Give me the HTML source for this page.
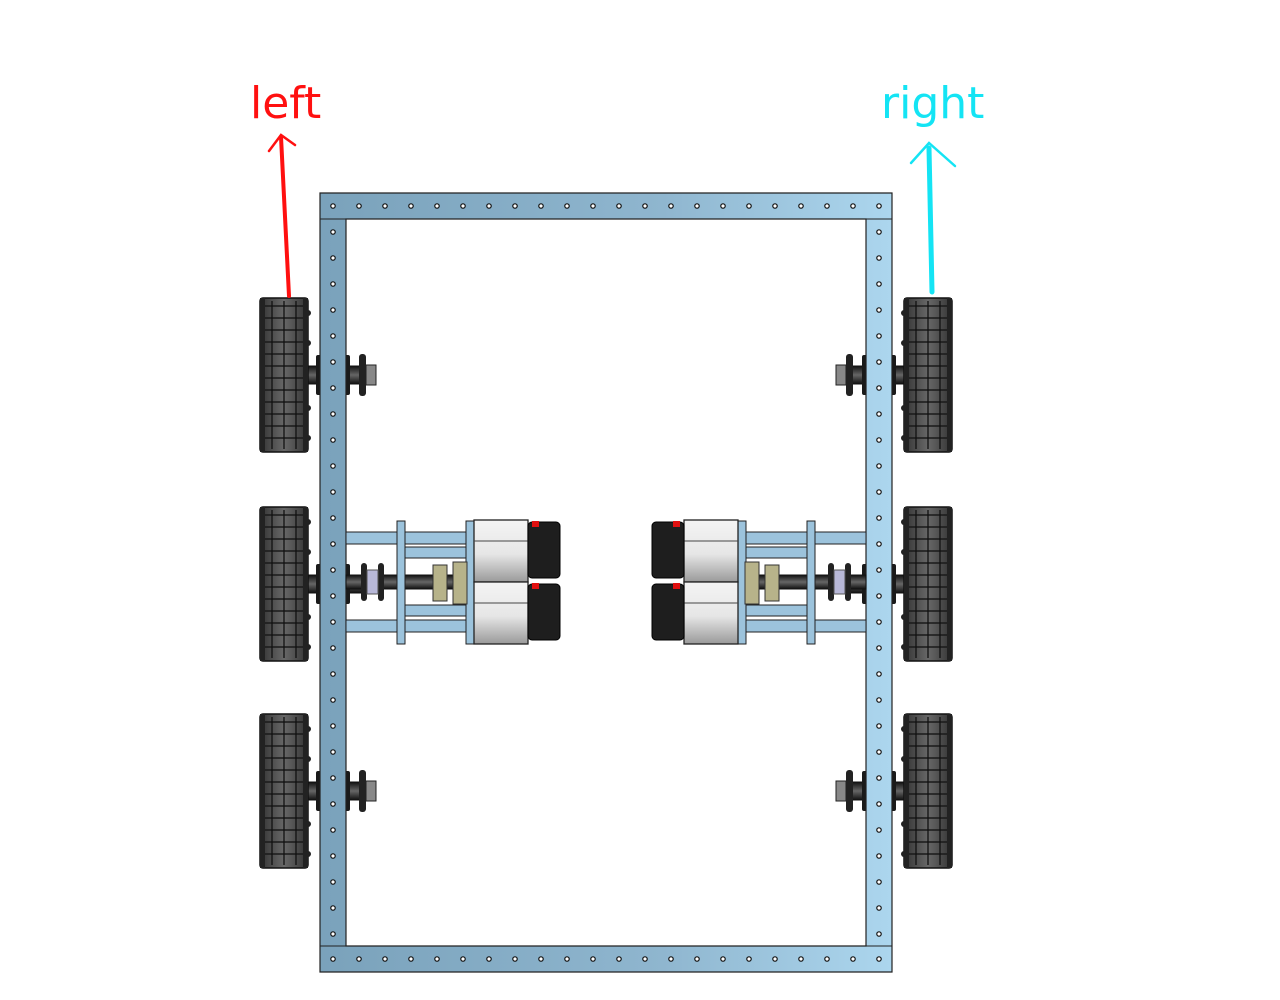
<!DOCTYPE html>
<html><head><meta charset="utf-8"><style>
html,body{margin:0;padding:0;background:#fff;width:1280px;height:1000px;overflow:hidden}
svg{display:block}
</style></head><body>
<svg id="s" width="1280" height="1000" viewBox="0 0 1280 1000" xmlns="http://www.w3.org/2000/svg">
<defs>
<linearGradient id="fg" x1="0" x2="1" y1="0" y2="0">
<stop offset="0" stop-color="#7aa2bb"/><stop offset="0.6" stop-color="#8fb6cf"/><stop offset="1" stop-color="#acd6ee"/>
</linearGradient>
<linearGradient id="wheelg" x1="0" x2="1">
<stop offset="0" stop-color="#333"/><stop offset="0.5" stop-color="#686868"/><stop offset="1" stop-color="#333"/>
</linearGradient>
<linearGradient id="motg" x1="0" x2="0" y1="0" y2="1">
<stop offset="0" stop-color="#f4f4f4"/><stop offset="0.55" stop-color="#e6e6e6"/><stop offset="1" stop-color="#9a9a9a"/>
</linearGradient>
<linearGradient id="axg" x1="0" x2="0" y1="0" y2="1">
<stop offset="0" stop-color="#111"/><stop offset="0.5" stop-color="#666"/><stop offset="1" stop-color="#111"/>
</linearGradient>
</defs>
<g id="left-side"></g>
<g id="right-side" transform="translate(1212,0) scale(-1,1)"></g>
<g id="frame">
<path d="M320,193 H892 V972 H320 Z M346,219 V946 H866 V219 Z" fill="url(#fg)" fill-rule="evenodd" stroke="#222" stroke-width="1.2"/>
<line x1="320" y1="219" x2="346" y2="219" stroke="#222"/>
<line x1="866" y1="219" x2="892" y2="219" stroke="#222"/>
<line x1="320" y1="946" x2="346" y2="946" stroke="#222"/>
<line x1="866" y1="946" x2="892" y2="946" stroke="#222"/>
</g>
<g id="holes"></g>
<g id="left-top"></g>
<g id="right-top" transform="translate(1212,0) scale(-1,1)"></g>
<g>
<path d="M289,296 L281,137" stroke="#ff1010" stroke-width="4" fill="none" stroke-linecap="round"/>
<path d="M269,151 L281,135 L295,145" stroke="#ff1010" stroke-width="2.5" fill="none" stroke-linecap="round"/>
<text x="250" y="118" font-family="DejaVu Sans, sans-serif" font-size="44" fill="#ff1010">left</text>
</g>
<g>
<path d="M932,292 L929,148" stroke="#14e4f4" stroke-width="5" fill="none" stroke-linecap="round"/>
<path d="M911,163 L929,143 L955,166" stroke="#14e4f4" stroke-width="2.5" fill="none" stroke-linecap="round"/>
<text x="881" y="118" font-family="DejaVu Sans, sans-serif" font-size="44" fill="#14e4f4">right</text>
</g>
</svg>
<script>
const NS='http://www.w3.org/2000/svg';
function mk(p,tag,a){const e=document.createElementNS(NS,tag);for(const k in a)e.setAttribute(k,a[k]);p.appendChild(e);return e;}
const holes=document.getElementById('holes');
for(let x=333;x<=880;x+=26){mk(holes,'circle',{cx:x,cy:206,r:2.2,fill:'#fff',stroke:'#111','stroke-width':1.2});mk(holes,'circle',{cx:x,cy:959,r:2.2,fill:'#fff',stroke:'#111','stroke-width':1.2});}
for(let y=232;y<=935;y+=26){mk(holes,'circle',{cx:333,cy:y,r:2.2,fill:'#fff',stroke:'#111','stroke-width':1.2});mk(holes,'circle',{cx:879,cy:y,r:2.2,fill:'#fff',stroke:'#111','stroke-width':1.2});}
const wheelYs=[298,507,714];
function side(g,top){
  wheelYs.forEach((wy,i)=>{
    const w=mk(g,'g',{});
    
    
    const cy=wy+77;
    mk(w,'rect',{x:304,y:cy-9,width:60,height:18,fill:'url(#axg)',stroke:'#111'});
    mk(w,'rect',{x:316,y:cy-20,width:6,height:40,rx:2,fill:'#1a1a1a'});
    mk(w,'rect',{x:344,y:cy-20,width:6,height:40,rx:2,fill:'#1a1a1a'});
    mk(w,'rect',{x:260,y:wy,width:48,height:154,rx:3,fill:'url(#wheelg)',stroke:'#111','stroke-width':1.5});
    for(let yy=wy+8;yy<wy+150;yy+=12) mk(w,'line',{x1:262,y1:yy,x2:306,y2:yy,stroke:'#1a1a1a','stroke-width':1.6});
    [272,284,296].forEach(x=>mk(w,'line',{x1:x,y1:wy+3,x2:x,y2:wy+151,stroke:'#111','stroke-width':1.3}));
    mk(w,'rect',{x:260,y:wy,width:5,height:154,fill:'#222'});
    mk(w,'rect',{x:303,y:wy,width:5,height:154,fill:'#222'});
    [wy+15,wy+45,wy+110,wy+140].forEach(y=>mk(w,'circle',{cx:308,cy:y,r:3,fill:'#222'}));
    if(i!==1){
      mk(w,'rect',{x:359,y:cy-21,width:7,height:42,rx:3,fill:'#222'});
      mk(w,'rect',{x:366,y:cy-10,width:10,height:20,fill:'#888',stroke:'#222'});
    }
  });
  const gb=mk(top,'g',{});
  
  
  const bar={fill:'#9cc3dc',stroke:'#222','stroke-width':1};
  mk(gb,'rect',Object.assign({x:346,y:532,width:124,height:12},bar));
  mk(gb,'rect',Object.assign({x:346,y:620,width:124,height:12},bar));
  mk(gb,'rect',Object.assign({x:404,y:547,width:66,height:11},bar));
  mk(gb,'rect',Object.assign({x:404,y:605,width:66,height:11},bar));
  mk(gb,'rect',{x:346,y:575,width:124,height:14,fill:'url(#axg)',stroke:'#111'});
  mk(gb,'rect',{x:361,y:563,width:6,height:38,rx:3,fill:'#222'});
  mk(gb,'rect',{x:378,y:563,width:6,height:38,rx:3,fill:'#222'});
  mk(gb,'rect',{x:367,y:570,width:11,height:24,fill:'#b8b8d8',stroke:'#555'});
  mk(gb,'rect',Object.assign({x:397,y:521,width:8,height:123},bar));
  mk(gb,'rect',Object.assign({x:466,y:521,width:8,height:123},bar));
  mk(gb,'rect',{x:433,y:565,width:14,height:36,fill:'#b7b38a',stroke:'#333'});
  mk(gb,'rect',{x:453,y:562,width:14,height:42,fill:'#b7b38a',stroke:'#333'});
  [[520],[582]].forEach(([my])=>{
    const m=mk(gb,'g',{});
    
    
    mk(m,'rect',{x:474,y:my,width:54,height:62,fill:'url(#motg)',stroke:'#222','stroke-width':1.3});
    mk(m,'line',{x1:474,y1:my+21,x2:528,y2:my+21,stroke:'#444'});
    mk(m,'rect',{x:528,y:my+2,width:32,height:56,rx:4,fill:'#1e1e1e',stroke:'#000'});
    mk(m,'rect',{x:532,y:my+1,width:7,height:6,fill:'#e01010'});
  });
}
side(document.getElementById('left-side'),document.getElementById('left-top'));
side(document.getElementById('right-side'),document.getElementById('right-top'));
</script>
</body></html>
